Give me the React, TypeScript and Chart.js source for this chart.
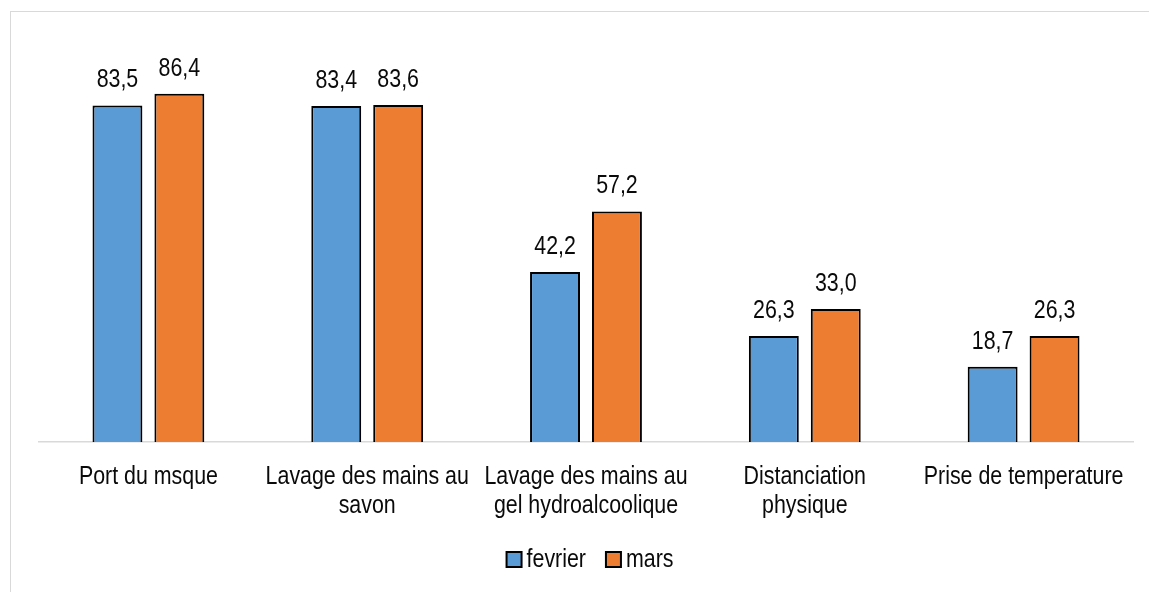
import React, { useEffect, useRef } from "react";
import { Chart, registerables } from "chart.js";

Chart.register(...registerables);

const categories: string[][] = [
  ["Port du msque"],
  ["Lavage des mains au", "savon"],
  ["Lavage des mains au", "gel hydroalcoolique"],
  ["Distanciation", "physique"],
  ["Prise de temperature"],
];
const fevrier: number[] = [83.5, 83.4, 42.2, 26.3, 18.7];
const mars: number[] = [86.4, 83.6, 57.2, 33.0, 26.3];
const seriesNames: string[] = ["fevrier", "mars"];
const seriesColors: string[] = ["#5B9BD5", "#ED7D31"];

const FONT = '"Liberation Sans", Arial, sans-serif';
const FONT_SIZE = 25;
const SX = 0.855; // horizontal condensing of the text
const TEXT_COLOR = "#0a0a0a";

const fmt = (v: number) => v.toFixed(1).replace(".", ",");

function narrowText(ctx: CanvasRenderingContext2D, text: string, x: number, y: number, align: CanvasTextAlign) {
  ctx.save();
  ctx.translate(x, y);
  ctx.scale(SX, 1);
  ctx.textAlign = align;
  ctx.textBaseline = "alphabetic";
  ctx.fillText(text, 0, 0);
  ctx.restore();
}

const valueLabels = {
  id: "valueLabels",
  afterDatasetsDraw(chart: any) {
    const ctx = chart.ctx;
    ctx.save();
    ctx.font = `${FONT_SIZE}px ${FONT}`;
    ctx.fillStyle = TEXT_COLOR;
    chart.data.datasets.forEach((ds: any, di: number) => {
      const meta = chart.getDatasetMeta(di);
      meta.data.forEach((bar: any, i: number) => {
        narrowText(ctx, fmt(ds.data[i]), bar.x, bar.y - 18, "center");
      });
    });
    ctx.restore();
  },
};

const categoryLabels = {
  id: "categoryLabels",
  afterDraw(chart: any) {
    const ctx = chart.ctx;
    const xs = chart.scales.x;
    ctx.save();
    ctx.font = `${FONT_SIZE}px ${FONT}`;
    ctx.fillStyle = TEXT_COLOR;
    const first = chart.chartArea.bottom + 42;
    const lh = 29;
    categories.forEach((lines, i) => {
      const x = xs.getPixelForValue(i);
      lines.forEach((ln, j) => narrowText(ctx, ln, x, first + j * lh, "center"));
    });
    ctx.restore();
  },
};

const customLegend = {
  id: "customLegend",
  afterDraw(chart: any) {
    const ctx = chart.ctx;
    ctx.save();
    ctx.font = `${FONT_SIZE}px ${FONT}`;
    const box = 15;
    const gap = 5;
    const itemGap = 20;
    const widths = seriesNames.map((n) => ctx.measureText(n).width * SX);
    const total = widths.reduce((a, w) => a + box + gap + w, 0) + itemGap * (seriesNames.length - 1);
    const center = (chart.chartArea.left + chart.chartArea.right) / 2 + 4;
    let x = center - total / 2;
    const baseline = chart.chartArea.bottom + 125;
    seriesNames.forEach((n, i) => {
      ctx.fillStyle = seriesColors[i];
      ctx.fillRect(x, baseline - box, box, box);
      ctx.strokeStyle = "#000";
      ctx.lineWidth = 2;
      ctx.strokeRect(x, baseline - box, box, box);
      ctx.fillStyle = TEXT_COLOR;
      narrowText(ctx, n, x + box + gap, baseline, "left");
      x += box + gap + widths[i] + itemGap;
    });
    ctx.restore();
  },
};

export default function App() {
  const ref = useRef<HTMLCanvasElement | null>(null);
  useEffect(() => {
    if (!ref.current) return;
    const chart = new Chart(ref.current, {
      type: "bar",
      data: {
        labels: categories.map((c) => c.join(" ")),
        datasets: [
          {
            label: seriesNames[0],
            data: fevrier,
            backgroundColor: seriesColors[0],
            borderColor: "#000",
            borderWidth: 2,
            categoryPercentage: 0.566,
            barPercentage: 0.806,
          },
          {
            label: seriesNames[1],
            data: mars,
            backgroundColor: seriesColors[1],
            borderColor: "#000",
            borderWidth: 2,
            categoryPercentage: 0.566,
            barPercentage: 0.806,
          },
        ],
      },
      options: {
        animation: false,
        responsive: false,
        maintainAspectRatio: false,
        layout: { padding: { top: 39, left: 39, right: 16, bottom: 0 } },
        plugins: {
          legend: { display: false },
          tooltip: { enabled: false },
        },
        scales: {
          x: {
            grid: { display: false },
            border: { display: true, color: "#d9d9d9", width: 1.5 },
            ticks: { display: false },
            afterFit: (scale: any) => {
              scale.height = 150;
            },
          },
          y: {
            display: false,
            min: 0,
            max: 100,
          },
        },
      },
      plugins: [valueLabels, categoryLabels, customLegend],
    });
    return () => chart.destroy();
  }, []);
  return (
    <div style={{ position: "absolute", left: 0, top: 0, width: 1149, height: 592, overflow: "hidden", background: "#fff" }}>
      <div style={{ position: "absolute", left: 10, top: 11, width: 1300, height: 800, border: "1px solid #d9d9d9" }} />
      <canvas ref={ref} width={1149} height={592} style={{ position: "absolute", left: 0, top: 0 }} />
    </div>
  );
}
